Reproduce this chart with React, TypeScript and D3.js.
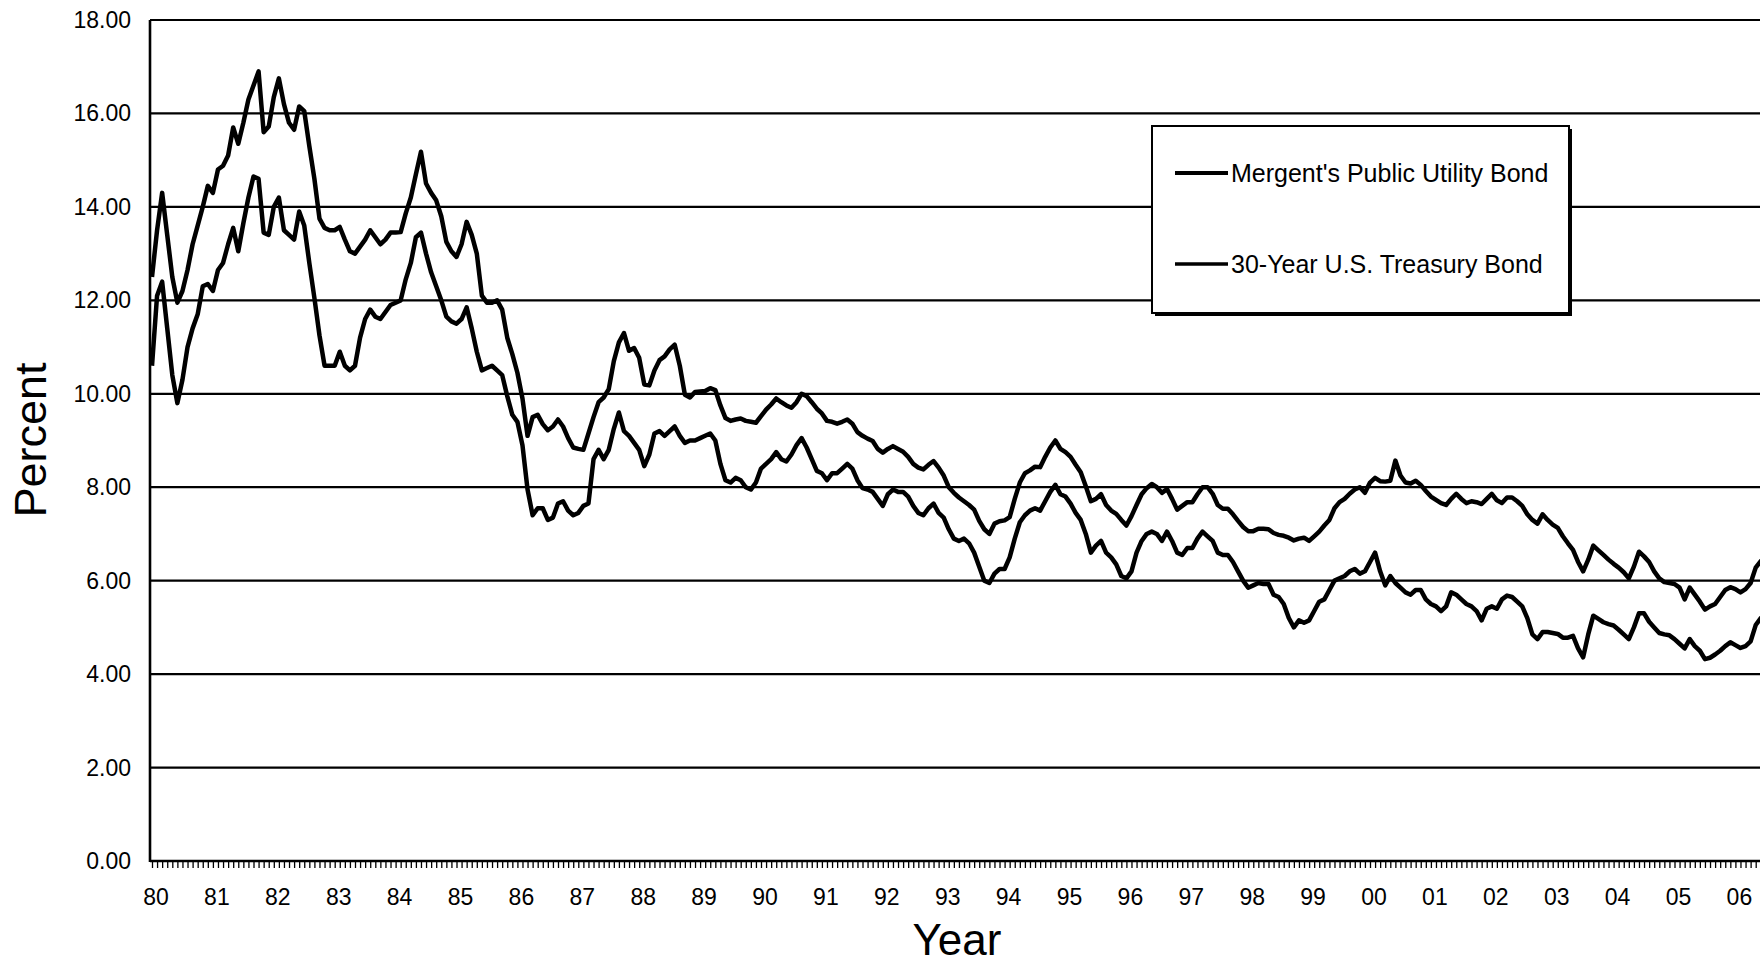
import { useEffect, useRef } from 'react';
import * as d3 from 'd3';

const WIDTH = 1760;
const HEIGHT = 966;
const PLOT = { left: 150, top: 20, bottom: 861 };
const MONTH_PX = 5.075;
const FONT = "'Liberation Sans', Arial, sans-serif";

const yTicks = [0, 2, 4, 6, 8, 10, 12, 14, 16, 18];
const yearLabels = [
  '80', '81', '82', '83', '84', '85', '86', '87', '88', '89', '90', '91', '92', '93',
  '94', '95', '96', '97', '98', '99', '00', '01', '02', '03', '04', '05', '06',
];

// monthly yields, Jan 1980 onwards (one row per year)
const utilityBond = [
  12.5, 13.5, 14.3, 13.4, 12.5, 11.95, 12.2, 12.65, 13.2, 13.6, 14.0, 14.45,
  14.3, 14.8, 14.88, 15.1, 15.7, 15.35, 15.8, 16.3, 16.6, 16.9, 15.6, 15.72,
  16.35, 16.75, 16.2, 15.8, 15.65, 16.15, 16.05, 15.3, 14.6, 13.75, 13.55, 13.5,
  13.5, 13.57, 13.3, 13.05, 13.0, 13.15, 13.3, 13.5, 13.35, 13.2, 13.3, 13.45,
  13.45, 13.46, 13.86, 14.2, 14.7, 15.18, 14.5, 14.3, 14.14, 13.8, 13.25, 13.05,
  12.93, 13.2, 13.68, 13.4, 13.0, 12.1, 11.95, 11.95, 12.0, 11.8, 11.2, 10.85,
  10.45, 9.9, 9.1, 9.5, 9.55, 9.35, 9.22, 9.3, 9.45, 9.3, 9.05, 8.85,
  8.82, 8.8, 9.15, 9.5, 9.82, 9.92, 10.1, 10.7, 11.1, 11.3, 10.92, 10.98,
  10.77, 10.2, 10.18, 10.5, 10.72, 10.8, 10.95, 11.05, 10.6, 9.98, 9.92, 10.04,
  10.05, 10.06, 10.12, 10.08, 9.75, 9.48, 9.42, 9.45, 9.47, 9.42, 9.4, 9.38,
  9.52, 9.66, 9.77, 9.9, 9.82, 9.75, 9.7, 9.82, 10.0, 9.95, 9.82, 9.68,
  9.58, 9.42, 9.4, 9.36, 9.4, 9.45, 9.36, 9.18, 9.1, 9.04, 8.99, 8.82,
  8.74, 8.82, 8.88, 8.82, 8.76, 8.65, 8.5, 8.42, 8.38, 8.48, 8.56, 8.42,
  8.25, 8.0, 7.88, 7.78, 7.7, 7.62, 7.52, 7.28, 7.1, 7.0, 7.22, 7.27,
  7.29, 7.36, 7.75, 8.1, 8.3, 8.36, 8.44, 8.43, 8.65, 8.85, 9.0, 8.82,
  8.75, 8.65, 8.48, 8.32, 8.02, 7.7, 7.75, 7.85, 7.62, 7.5, 7.43, 7.3,
  7.18, 7.38, 7.62, 7.85, 7.98, 8.07, 8.0, 7.88, 7.96, 7.75, 7.52, 7.6,
  7.68, 7.68, 7.85, 8.0, 8.0, 7.86, 7.62, 7.54, 7.54, 7.42, 7.28, 7.15,
  7.06, 7.06, 7.11, 7.11, 7.1, 7.02, 6.98, 6.96, 6.92, 6.86, 6.9, 6.92,
  6.85, 6.95, 7.05, 7.18, 7.3, 7.55, 7.68, 7.75, 7.86, 7.95, 8.0, 7.88,
  8.1, 8.2, 8.13, 8.12, 8.14, 8.57, 8.25, 8.1, 8.08, 8.14, 8.05, 7.92,
  7.8, 7.73, 7.66, 7.62, 7.75, 7.86, 7.75, 7.66, 7.7, 7.68, 7.64, 7.75,
  7.86, 7.72, 7.66, 7.78, 7.78, 7.7, 7.6, 7.42, 7.3, 7.22, 7.42, 7.3,
  7.2, 7.13, 6.95, 6.8, 6.66, 6.4, 6.2, 6.45, 6.75, 6.65, 6.55, 6.45,
  6.36, 6.28, 6.18, 6.05, 6.3, 6.62, 6.52, 6.4, 6.2, 6.05, 5.97, 5.95,
  5.93, 5.85, 5.6, 5.85, 5.7, 5.55, 5.38, 5.45, 5.5, 5.65, 5.8, 5.86,
  5.82, 5.75, 5.82, 5.95, 6.28, 6.42, 6.45,
];

const treasuryBond = [
  10.6, 12.1, 12.4, 11.4, 10.4, 9.8, 10.3, 11.0, 11.4, 11.7, 12.3, 12.35,
  12.2, 12.65, 12.8, 13.2, 13.55, 13.05, 13.65, 14.2, 14.65, 14.6, 13.45, 13.4,
  14.0, 14.2, 13.5, 13.4, 13.3, 13.9, 13.6, 12.8, 12.05, 11.25, 10.6, 10.6,
  10.6, 10.9, 10.6, 10.5, 10.6, 11.2, 11.6, 11.8, 11.65, 11.6, 11.75, 11.9,
  11.95, 12.0, 12.45, 12.8, 13.35, 13.45, 13.0, 12.6, 12.3, 12.0, 11.65, 11.55,
  11.5, 11.6, 11.85, 11.4, 10.9, 10.5, 10.55, 10.6, 10.5, 10.4, 9.95, 9.55,
  9.4, 8.9, 7.95, 7.4, 7.55, 7.55, 7.3, 7.35, 7.65, 7.7, 7.5, 7.4,
  7.45, 7.6, 7.65, 8.6, 8.8, 8.6, 8.8, 9.25, 9.6, 9.2, 9.1, 8.95,
  8.8, 8.45, 8.7, 9.15, 9.2, 9.1, 9.2, 9.3, 9.1, 8.95, 9.0, 9.0,
  9.05, 9.1, 9.15, 9.0, 8.5, 8.15, 8.1, 8.2, 8.15, 8.0, 7.95, 8.1,
  8.4, 8.5, 8.6, 8.75, 8.6, 8.55, 8.7, 8.9, 9.05, 8.85, 8.6, 8.35,
  8.3, 8.15, 8.3, 8.3, 8.4, 8.5, 8.4, 8.15, 7.98, 7.95, 7.9, 7.75,
  7.6, 7.85, 7.95, 7.9, 7.9, 7.8, 7.6, 7.45, 7.4, 7.55, 7.65, 7.45,
  7.35, 7.1, 6.9, 6.85, 6.9, 6.8, 6.6, 6.3, 6.0, 5.95, 6.15, 6.25,
  6.25, 6.5, 6.9, 7.25, 7.4, 7.5, 7.55, 7.5, 7.7, 7.9, 8.05, 7.85,
  7.8, 7.65, 7.45, 7.3, 7.0, 6.6, 6.75, 6.85, 6.6, 6.5, 6.35, 6.1,
  6.05, 6.2, 6.6, 6.85, 7.0, 7.05, 7.0, 6.85, 7.05, 6.85, 6.6, 6.55,
  6.7, 6.7, 6.9, 7.05, 6.95, 6.85, 6.6, 6.55, 6.55, 6.4, 6.2, 6.0,
  5.85, 5.9, 5.95, 5.93, 5.93, 5.7, 5.65, 5.5, 5.2, 5.0, 5.15, 5.1,
  5.15, 5.35, 5.55, 5.6, 5.8, 6.0, 6.05, 6.1, 6.2, 6.25, 6.15, 6.2,
  6.4, 6.6, 6.2, 5.9, 6.1, 5.95, 5.85, 5.75, 5.7, 5.8, 5.8, 5.6,
  5.5, 5.45, 5.35, 5.45, 5.75, 5.7, 5.6, 5.5, 5.45, 5.35, 5.15, 5.4,
  5.45, 5.4, 5.6, 5.68, 5.65, 5.55, 5.45, 5.2, 4.85, 4.75, 4.9, 4.9,
  4.88, 4.86, 4.78, 4.78, 4.82, 4.55, 4.36, 4.85, 5.25, 5.18, 5.11, 5.07,
  5.04, 4.95, 4.85, 4.75, 5.0, 5.3, 5.3, 5.12, 5.0, 4.88, 4.85, 4.83,
  4.75, 4.65, 4.55, 4.75, 4.6, 4.5, 4.32, 4.35, 4.42, 4.5, 4.6, 4.68,
  4.62, 4.56, 4.6, 4.7, 5.05, 5.2, 5.22,
];

const legendItems = [
  { label: "Mergent's Public Utility Bond", width: 4 },
  { label: '30-Year U.S. Treasury Bond', width: 3.5 },
];

export default function App() {
  const ticksRef = useRef<SVGGElement>(null);

  const n = utilityBond.length - 1;
  const x = d3.scaleLinear().domain([0, n]).range([152, 152 + n * MONTH_PX]);
  const y = d3.scaleLinear().domain([0, 18]).range([PLOT.bottom, PLOT.top]);

  const line = d3
    .line<number>()
    .x((_, i) => x(i))
    .y((d) => y(d));

  // small monthly ticks under the x axis
  useEffect(() => {
    if (!ticksRef.current) return;
    const g = d3.select(ticksRef.current);
    g.selectAll('*').remove();
    g.call(
      d3
        .axisBottom(x)
        .tickValues(d3.range(0, n + 1))
        .tickSize(7)
        .tickFormat(() => '')
    );
    g.select('.domain').remove();
    g.selectAll('line').attr('stroke', '#000').attr('stroke-width', 1.3);
  }, []);

  const legend = { x: 1152, y: 126, w: 417, h: 187 };

  return (
    <svg
      width={WIDTH}
      height={HEIGHT}
      style={{ position: 'absolute', left: 0, top: 0, background: '#fff' }}
      fontFamily={FONT}
    >
      <defs>
        <clipPath id="plot-clip">
          <rect x={PLOT.left} y={0} width={WIDTH - PLOT.left} height={PLOT.bottom + 2} />
        </clipPath>
      </defs>

      {/* gridlines */}
      {yTicks.map((t) => (
        <line
          key={t}
          x1={PLOT.left}
          x2={WIDTH}
          y1={y(t)}
          y2={y(t)}
          stroke="#000"
          strokeWidth={t === 0 ? 2.6 : 2.2}
        />
      ))}
      <line x1={PLOT.left} x2={PLOT.left} y1={PLOT.top} y2={PLOT.bottom + 1} stroke="#000" strokeWidth={2.6} />

      <g ref={ticksRef} transform={`translate(0, ${PLOT.bottom})`} />

      {/* y labels */}
      {yTicks.map((t) => (
        <text key={t} x={131} y={y(t) + 8} textAnchor="end" fontSize={23} fill="#000">
          {t.toFixed(2)}
        </text>
      ))}

      {/* x labels */}
      {yearLabels.map((l, i) => (
        <text key={l} x={x(i * 12) + 4} y={905} textAnchor="middle" fontSize={23} fill="#000">
          {l}
        </text>
      ))}

      {/* series */}
      <g clipPath="url(#plot-clip)">
        <path d={line(treasuryBond) ?? ''} fill="none" stroke="#000" strokeWidth={4.5} strokeLinejoin="round" />
        <path d={line(utilityBond) ?? ''} fill="none" stroke="#000" strokeWidth={4.5} strokeLinejoin="round" />
      </g>

      {/* legend */}
      <rect x={legend.x + 3} y={legend.y + 3} width={legend.w} height={legend.h} fill="#000" />
      <rect x={legend.x} y={legend.y} width={legend.w} height={legend.h} fill="#fff" stroke="#000" strokeWidth={2} />
      {legendItems.map((item, i) => {
        const ly = 173 + i * 91;
        return (
          <g key={item.label}>
            <line x1={1175} x2={1228} y1={ly} y2={ly} stroke="#000" strokeWidth={item.width} />
            <text x={1231} y={ly + 9} fontSize={25} fill="#000">
              {item.label}
            </text>
          </g>
        );
      })}

      {/* axis titles */}
      <text x={957} y={955} textAnchor="middle" fontSize={44} fill="#000">
        Year
      </text>
      <text transform="translate(46, 440) rotate(-90)" textAnchor="middle" fontSize={45} fill="#000">
        Percent
      </text>
    </svg>
  );
}
